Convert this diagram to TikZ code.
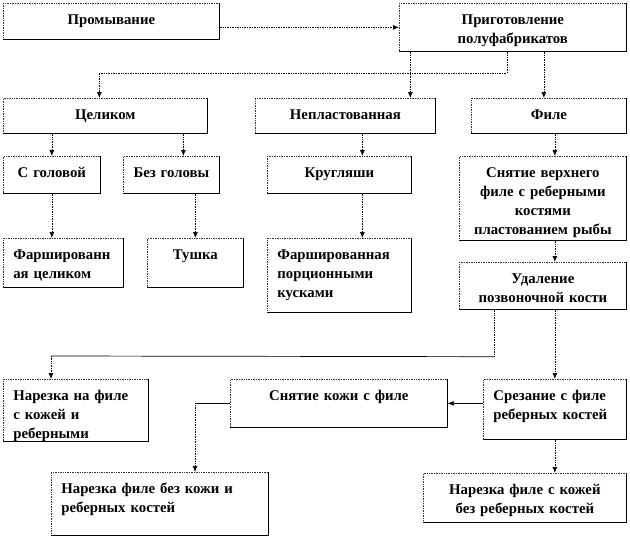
\documentclass[tikz,border=0pt]{standalone}
\usepackage{fontspec}
\setmainfont{Liberation Serif}
\usetikzlibrary{positioning, calc, arrows.meta}

\tikzset{
  box/.style={draw=black!80, densely dotted, line width=0.7pt, anchor=north west,
    inner xsep=5pt, inner ysep=0pt, text height=21pt, align=center,
    font=\fontsize{14.8}{19}\selectfont\bfseries},
  lbox/.style={box, align=left, inner xsep=10pt},
  line/.style={densely dotted, line width=0.7pt, -{Latex[length=6pt, width=5pt]}},
  plain/.style={solid, line width=0.7pt},
}

\begin{document}
\begin{tikzpicture}[x=1pt, y=-1pt]
    \useasboundingbox (0,0) rectangle (630,539);
    % Nodes
    \node[box, text width=206pt, text depth=15pt] (prom) at (3,3) {Промывание};
    \node[box, text width=217pt, text depth=27pt] (prig) at (399,3) {Приготовление\\полуфабрикатов};
    \node[box, text width=194pt, text depth=14pt] (cel) at (3,98) {Целиком};
    \node[box, text width=170pt, text depth=14pt] (nepl) at (255,98) {Непластованная};
    \node[box, text width=145pt, text depth=14pt] (file) at (471,98) {Филе};
    \node[box, text width=87pt, text depth=16pt] (sgol) at (3,156) {С головой};
    \node[box, text width=86pt, text depth=16pt] (bgol) at (123,156) {Без головы};
    \node[box, text width=134pt, text depth=16pt] (krug) at (267,156) {Кругляши};
    \node[box, text width=157pt, text depth=63pt] (snver) at (459,156) {Снятие верхнего\\филе с реберными\\костями\\пластованием рыбы};
    \node[lbox, text width=100pt, text depth=28pt] (farc) at (3,238) {Фаршированн\\ая целиком};
    \node[box, text width=86pt, text depth=28pt] (tush) at (147,238) {Тушка};
    \node[lbox, text width=124pt, text depth=53pt] (farp) at (267,238) {Фаршированная\\порционными\\кусками};
    \node[box, text width=157pt, text depth=26pt] (udal) at (459,262) {Удаление\\позвоночной кости};
    \node[lbox, text width=125pt, text depth=41pt] (narna) at (3,379) {Нарезка на филе\\с кожей и\\реберными};
    \node[box, text width=207pt, text depth=27pt] (snkoz) at (230,379) {Снятие кожи с филе};
    \node[lbox, text width=123pt, text depth=39pt] (srez) at (483,379) {Срезание с филе\\реберных костей};
    \node[lbox, text width=197pt, text depth=42pt] (narbez) at (51,472) {Нарезка филе без кожи и\\реберных костей};
    \node[box, text width=193pt, text depth=28pt] (narsk) at (423,473) {Нарезка филе с кожей\\без реберных костей};

    % solid right and bottom edges
    \foreach \n in {prom,prig,cel,nepl,file,sgol,bgol,krug,snver,farc,tush,farp,udal,narna,snkoz,srez,narbez,narsk}
        \draw[plain] (\n.north east) -- (\n.south east) -- (\n.south west);

    % Arrows
    \draw[line] (prom.east |- prig.west) -- (prig.west);
    \draw[line] ($(prig.south)+(-6,0)$) |- ($(cel.north)+(-6,-25)$) -- ($(cel.north)+(-6,0)$);
    \draw[line] ($(nepl.north |- prig.south)+(65,0)$) -- ($(nepl.north)+(65,0)$);
    \draw[line] ($(file.north |- prig.south)+(-5,0)$) -- ($(file.north)+(-5,0)$);
    \draw[line] (sgol.north |- cel.south) -- (sgol.north);
    \draw[line] ($(bgol.north |- cel.south)+(12,0)$) -- ($(bgol.north)+(12,0)$);
    \draw[line] ($(krug.north |- nepl.south)+(23,0)$) -- ($(krug.north)+(23,0)$);
    \draw[line] ($(snver.north |- file.south)+(12,0)$) -- ($(snver.north)+(12,0)$);
    \draw[line] (sgol.south) -- (sgol.south |- farc.north);
    \draw[line] (tush.north |- bgol.south) -- (tush.north);
    \draw[line] ($(krug.south)+(23,0)$) -- ($(farp.north)+(23,0)$);
    \draw[line] ($(snver.south)+(12,0)$) -- ($(udal.north)+(12,0)$);

    \coordinate (turn1) at ($(udal.south west)+(35,47)$);
    \coordinate (turn2) at ($(narna.north west)+(48,-23)$);
    \draw[line, -] ($(udal.south west)+(35,0)$) -- (turn1);
    \draw[plain] (turn1) -- (turn2);
    \draw[line] (turn2) -- ($(narna.north west)+(48,0)$);

    \draw[line] (srez.north |- udal.south) -- (srez.north);
    \draw[plain, -{Latex[length=6pt, width=5pt]}] (srez.west |- snkoz.east) -- (snkoz.east);

    \coordinate (turn3) at ($(narbez.north west |- snkoz.west)+(144,0)$);
    \draw[plain] (snkoz.west) -- (turn3);
    \draw[line] (turn3) -- ($(narbez.north west)+(144,0)$);

    \draw[line] (srez.south) -- (srez.south |- narsk.north);
\end{tikzpicture}
\end{document}
